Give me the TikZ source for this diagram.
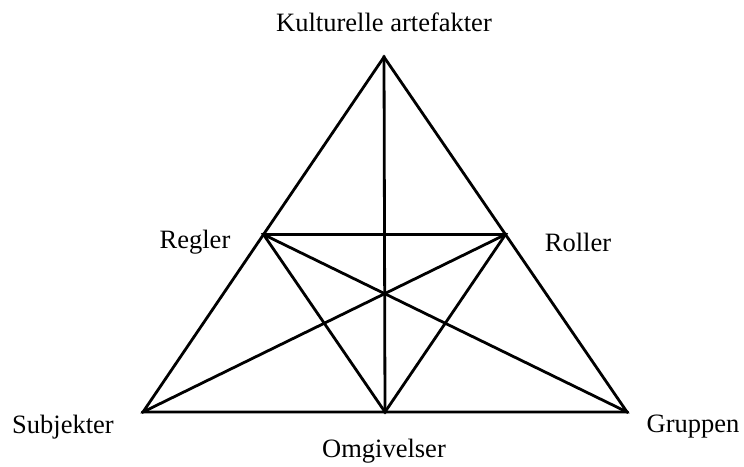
\documentclass[tikz,border=0pt]{standalone}
\usepackage{fontspec}
\setmainfont{Liberation Serif}
\usetikzlibrary{positioning,calc}

\begin{document}
\begin{tikzpicture}[x=1pt, y=-1pt, lbl/.style={font=\fontsize{26.5}{30}\selectfont, inner sep=0pt}, edge/.style={line width=2.8pt, line join=miter, line cap=rect}]
\useasboundingbox (0,0) rectangle (744,466);
% corners and midpoints
\coordinate (top) at (384,57);
\coordinate (bl) at (143,412);
\coordinate (br) at (627,412);
\coordinate (ml) at ($(top)!0.5!(bl)$);
\coordinate (mr) at ($(top)!0.5!(br)$);
\coordinate (mb) at ($(bl)!0.5!(br)$);
% labels
\node[lbl] (kult) at (384,22) {Kulturelle artefakter};
\node[lbl] (regl) at (195,242) {Regler};
\node[lbl] (roll) at (578,242) {Roller};
\node[lbl] (subj) at (63,427) {Subjekter};
\node[lbl] (grup) at (693,427) {Gruppen};
\node[lbl] (omgi) at (384,451) {Omgivelser};
% lines
\draw[edge] (top) -- (bl) -- (br) -- cycle;
\draw[edge] (ml) -- (mr) -- (mb) -- cycle;
\draw[edge] (top) -- (mb);
\draw[edge] (bl) -- (mr);
\draw[edge] (br) -- (ml);
\end{tikzpicture}
\end{document}
